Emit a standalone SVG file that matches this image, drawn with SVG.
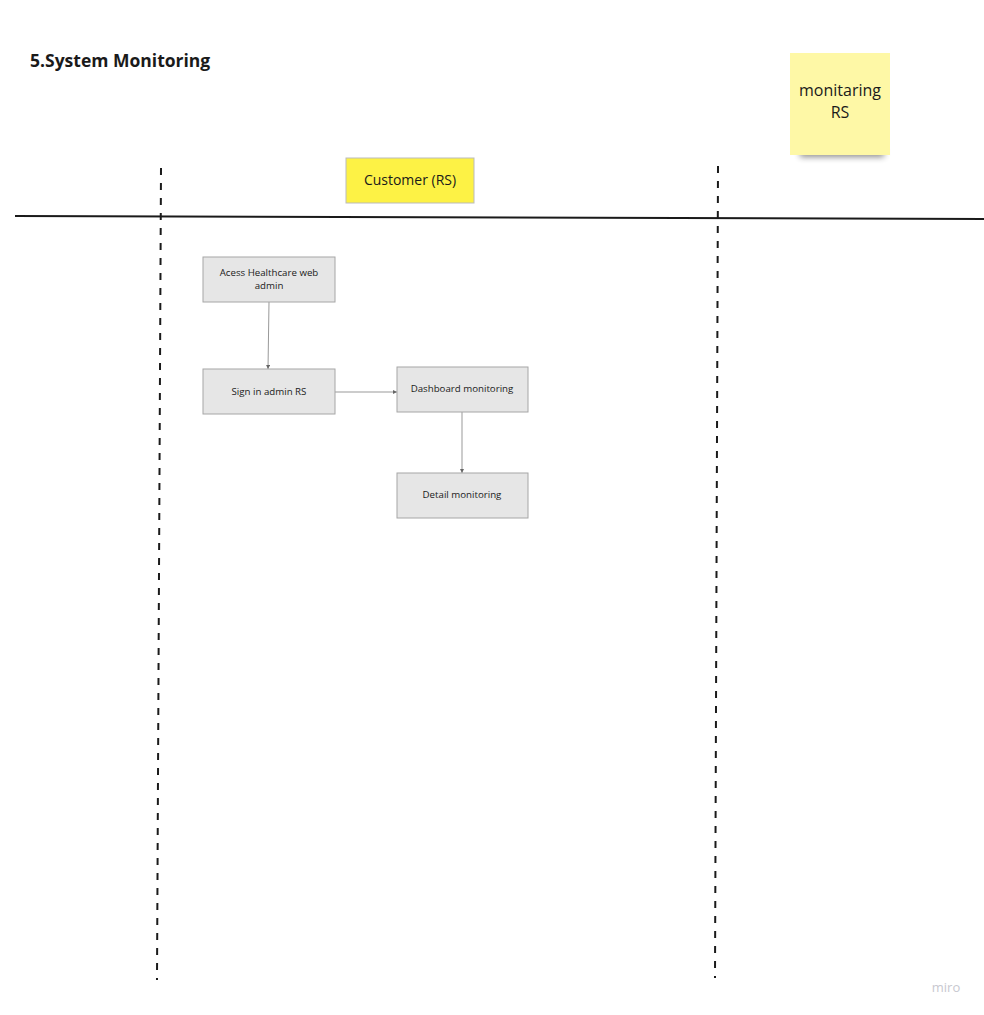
<svg xmlns="http://www.w3.org/2000/svg" width="984" height="1015" viewBox="0 0 984 1015">
<style>
.node rect{fill:#e6e6e6;stroke:#a6a6a6;stroke-width:1}
.node text{font-family:"Open Sans","Noto Sans",sans-serif;font-size:9.7px;fill:#1a1a1a;text-anchor:middle}
.conn{stroke:#999;stroke-width:1;fill:none;marker-end:url(#ah)}
.lane{stroke:#1a1a1a;stroke-width:2;stroke-dasharray:7 8;fill:none}
</style>
<defs>
<marker id="ah" viewBox="0 0 6 6" refX="6" refY="3" markerWidth="4" markerHeight="4" orient="auto"><path d="M0,0 L6,3 L0,6 z" fill="#666"/></marker>
<filter id="bl" x="-20%" y="-100%" width="140%" height="300%"><feGaussianBlur stdDeviation="3"/></filter>
</defs>
<rect width="984" height="1015" fill="#ffffff"/>
<text x="30" y="67" font-family="'Open Sans','Noto Sans',sans-serif" font-size="17.5" font-weight="bold" fill="#1a1a1a">5.System Monitoring</text>
<g id="sticky">
<rect x="800" y="148" width="84" height="9" fill="#000" opacity="0.45" filter="url(#bl)"/>
<rect x="790" y="53" width="100" height="102" fill="#fef8a6"/>
<text x="840" y="96" font-family="'Open Sans','Noto Sans',sans-serif" font-size="16" fill="#1a1a1a" text-anchor="middle">monitaring</text>
<text x="840" y="118" font-family="'Open Sans','Noto Sans',sans-serif" font-size="16" fill="#1a1a1a" text-anchor="middle">RS</text>
</g>
<g id="lanes">
<line class="lane" x1="161" y1="168" x2="157" y2="980"/>
<line class="lane" x1="718" y1="166" x2="715" y2="978"/>
<line x1="15" y1="216" x2="984" y2="219" stroke="#1a1a1a" stroke-width="2"/>
</g>
<g id="customer">
<rect x="346" y="158" width="128" height="45" fill="#fdf245" stroke="#bbbbbb" stroke-width="1"/>
<text x="410" y="185" font-family="'Open Sans','Noto Sans',sans-serif" font-size="14" fill="#1a1a1a" text-anchor="middle">Customer (RS)</text>
</g>
<g id="connectors">
<path class="conn" d="M269,302 L268,369"/>
<path class="conn" d="M335,392 L397,392"/>
<path class="conn" d="M462,412 L462,473"/>
</g>
<g id="n1" class="node"><rect x="203" y="257" width="132" height="45"/><text x="269" y="276">Acess Healthcare web</text><text x="269" y="289">admin</text></g>
<g id="n2" class="node"><rect x="203" y="369" width="132" height="45"/><text x="269" y="395">Sign in admin RS</text></g>
<g id="n3" class="node"><rect x="397" y="367" width="131" height="45"/><text x="462" y="392">Dashboard monitoring</text></g>
<g id="n4" class="node"><rect x="397" y="473" width="131" height="45"/><text x="462" y="498">Detail monitoring</text></g>
<text x="946" y="992" font-family="'Open Sans','Noto Sans',sans-serif" font-size="13" fill="#c8c8d0" text-anchor="middle">miro</text>
</svg>
